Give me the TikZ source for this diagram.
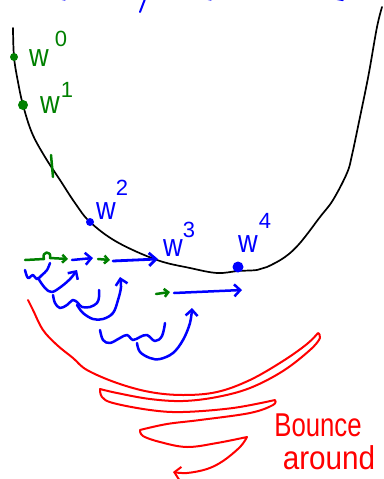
\documentclass[tikz,border=0pt]{standalone}
\usepackage{fontspec}
\setmainfont{Liberation Sans}
\usetikzlibrary{arrows.meta}
\definecolor{pgreen}{RGB}{0,128,0}
\definecolor{pblue}{RGB}{0,0,255}
\definecolor{pred}{RGB}{255,0,0}
\begin{document}
\begin{tikzpicture}[x=1pt,y=-1pt,
  pen/.style={line cap=round,line join=round},
  curvepen/.style={pen,black,line width=1.7pt},
  bpen/.style={pen,pblue,line width=2.5pt},
  gpen/.style={pen,pgreen,line width=2.5pt},
  rpen/.style={pen,pred,line width=2pt},
  barb/.style={-{Straight Barb[length=6pt,width=12pt]}},
  bigbarb/.style={-{Straight Barb[length=7pt,width=13pt]}},
  smallbarb/.style={-{Straight Barb[length=4pt,width=8pt]}},
  gdot/.style={circle,fill=pgreen,inner sep=0pt,minimum size=#1},
  bdot/.style={circle,fill=pblue,inner sep=0pt,minimum size=#1},
  wlab/.style={inner sep=0pt,font=\fontsize{32}{32}\selectfont,xscale=0.85},
  slab/.style={inner sep=0pt,font=\fontsize{22}{22}\selectfont},
  rlab/.style={inner sep=0pt,pred,font=\fontsize{33}{33}\selectfont}]
\useasboundingbox (0,0) rectangle (383,479);

% fragments of cut-off text at the top
\draw[bpen,line width=2pt] (145,-1) -- (140,12);
\draw[bpen,line width=1.2pt] (62,-0.5) -- (65,0);
\draw[bpen,line width=1.2pt] (208,-0.5) -- (211,0);
\draw[bpen,line width=1.2pt] (337,-0.5) -- (343,0.5);

% the loss curve
\draw[curvepen] plot[smooth,tension=0.6] coordinates {(13,28) (14,57) (18,82) (23,105) (32,133) (45,157)
  (60,180) (75,203) (90,222) (117,242) (157,260) (190,268) (217,273) (238,271) (257,270) (267,267)
  (285,257) (300,243) (320,217) (333,200) (347,173) (352,155) (360,117) (366,88) (370,67) (377,27) (382,7)};

% iterates
\node[gdot=8pt] (d0) at (14,57) {};
\node[gdot=10pt] (d1) at (23,105) {};
\node[bdot=8pt] (d2) at (90,222) {};
\node[bdot=11pt] (d4) at (238,267) {};

\node[wlab,pgreen] (w0) at (39,58) {w};
\node[slab,pgreen] (s0) at (61,39) {0};
\node[wlab,pgreen] (w1) at (50,105) {w};
\node[slab,pgreen] (s1) at (67,90) {1};
\node[wlab,pblue] (w2) at (106,211) {w};
\node[slab,pblue] (s2) at (122,188) {2};
\node[wlab,pblue] (w3) at (173,248) {w};
\node[slab,pblue] (s3) at (189,230) {3};
\node[wlab,pblue] (w4) at (248,244) {w};
\node[slab,pblue] (s4) at (265,221) {4};

% green tick
\coordinate (t1) at (51,155);
\coordinate (t2) at (53,177);
\draw[gpen] (t1) -- (t2);

% first row of steps
\coordinate (ga1) at (25,260);
\coordinate (ga2) at (68,259);
\draw[gpen,smallbarb] (ga1) -- (44,259) .. controls (41,251) and (52,250) .. (50,258) -- (ga2);
\coordinate (ba1) at (72,260);
\coordinate (ba2) at (93,258);
\draw[bpen,barb] (ba1) -- (ba2);
\coordinate (gb1) at (98,259);
\coordinate (gb2) at (110,260);
\draw[gpen,smallbarb] (gb1) -- (gb2);
\coordinate (bb1) at (113,261);
\coordinate (bb2) at (158,259);
\draw[bpen,bigbarb,line width=2.8pt] (bb1) -- (bb2);

% second row of steps
\coordinate (gc1) at (156,294);
\coordinate (gc2) at (170,292);
\draw[gpen,smallbarb] (gc1) -- (gc2);
\coordinate (bc1) at (174,293);
\coordinate (bc2) at (242,290);
\draw[bpen,barb] (bc1) -- (bc2);

% noisy gradient squiggles
\draw[bpen] plot[smooth,tension=0.6] coordinates {(25,270) (28,278) (33,275) (37,279) (42,275) (47,270) (50,263)};
\coordinate (q1) at (77,270);
\draw[bpen,barb] plot[smooth,tension=0.6] coordinates {(38,278) (45,288) (52,292) (62,286) (71,278) (q1)};

\draw[bpen] plot[smooth,tension=0.6] coordinates {(53,295) (55,303) (60,308) (67,305) (73,300) (78,303) (82,307) (90,307) (97,303) (99,297) (99,290)};
\coordinate (q2) at (120,277);
\draw[bpen,barb] plot[smooth,tension=0.6] coordinates {(77,305) (83,313) (93,319) (103,319) (113,313) (118,300) (121,287) (q2)};

\draw[bpen] plot[smooth,tension=0.6] coordinates {(100,330) (103,340) (110,343) (120,338) (127,335) (133,340) (140,337) (147,335) (155,341) (162,336) (165,323)};
\coordinate (q3) at (192,308);
\draw[bpen,barb] plot[smooth,tension=0.6] coordinates {(137,343) (140,352) (150,358) (160,359) (173,353) (183,340) (190,323) (q3)};

% bouncing around
\coordinate (r0) at (28,300);
\coordinate (rend) at (173,472);
\draw[rpen,-{Straight Barb[length=6pt,width=13pt]}]
  plot[smooth,tension=0.6] coordinates {(r0) (33,310) (43,330) (57,345) (73,358) (87,370) (117,383) (150,392) (183,395) (217,392) (250,380) (283,361) (307,344) (318,333)}
  -- plot[smooth,tension=0.6] coordinates {(318,333) (320,338) (310,350) (283,371) (250,388) (217,397) (183,401) (150,399) (117,393) (100,389)}
  -- plot[smooth,tension=0.6] coordinates {(100,389) (102,397) (113,403) (150,410) (183,412) (233,408) (275,400)}
  -- plot[smooth,tension=0.6] coordinates {(275,400) (273,405) (250,413) (200,420) (167,424) (140,430)}
  -- plot[smooth,tension=0.6] coordinates {(140,430) (143,436) (160,442) (187,447) (217,443) (247,437)}
  -- plot[smooth,tension=0.6] coordinates {(247,437) (240,447) (223,461) (207,469) (187,473) (rend)};

\node[rlab,xscale=0.78] (bounce) at (318,425) {Bounce};
\node[rlab,xscale=0.9] (around) at (329,458) {around};
\end{tikzpicture}
\end{document}
